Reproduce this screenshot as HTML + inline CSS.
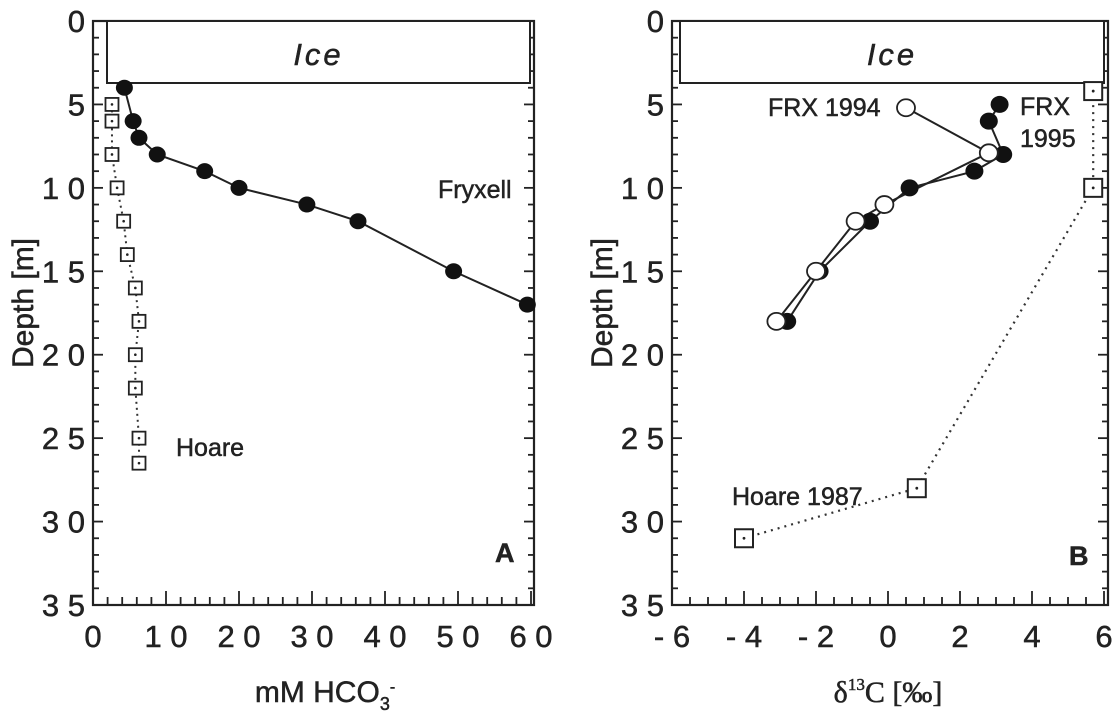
<!DOCTYPE html>
<html><head><meta charset="utf-8"><style>
body{margin:0;background:#fff}
svg text{font-family:"Liberation Sans",Arial,sans-serif;fill:#222;stroke:#222;stroke-width:0.5}
</style></head><body>
<svg id="chart" width="1120" height="721" viewBox="0 0 1120 721" xmlns="http://www.w3.org/2000/svg"></svg>
<script>
// Panel A data
const fryxellDepth = [4, 6, 7, 8, 9, 10, 11, 12, 15, 17];
const fryxellHCO3 = [4.3, 5.5, 6.3, 8.8, 15.3, 20, 29.3, 36.3, 49.4, 59.5];
const hoareDepth = [5, 6, 8, 10, 12, 14, 16, 18, 20, 22, 25, 26.5];
const hoareHCO3 = [2.6, 2.6, 2.6, 3.3, 4.2, 4.7, 5.8, 6.3, 5.8, 5.8, 6.3, 6.3];
const xTicksA = [0, 10, 20, 30, 40, 50, 60];
const xTickLabelsA = ["0", "1 0", "2 0", "3 0", "4 0", "5 0", "6 0"];
const yTicks = [0, 5, 10, 15, 20, 25, 30, 35];
const yTickLabels = ["0", "5", "1 0", "1 5", "2 0", "2 5", "3 0", "3 5"];
// Panel B data
const frx1994Depth = [5.2, 7.9, 11, 12, 15, 18];
const frx1994d13C = [0.5, 2.8, -0.1, -0.9, -2.0, -3.1];
const frx1995Depth = [5, 6, 8, 9, 10, 12, 15, 18];
const frx1995d13C = [3.1, 2.8, 3.2, 2.4, 0.6, -0.5, -1.9, -2.8];
const hoare1987Depth = [4.2, 10, 28, 31];
const hoare1987d13C = [5.7, 5.7, 0.8, -4.0];
const xTicksB = [-6, -4, -2, 0, 2, 4, 6];
const xTickLabelsB = ["- 6", "- 4", "- 2", "0", "2", "4", "6"];

const NS = "http://www.w3.org/2000/svg";
const svg = document.getElementById("chart");
function mk(tag, attrs, parent) {
  const e = document.createElementNS(NS, tag);
  for (const k in attrs) e.setAttribute(k, attrs[k]);
  (parent || svg).appendChild(e);
  return e;
}
const Y0 = 21, Y1 = 605;
const yS = d => Y0 + (Y1 - Y0) * d / 35;

function panel(cfg) {
  const g = mk("g", {});
  
  
  const xS = v => cfg.L + (cfg.xR - cfg.L) * (v - cfg.xmin) / (cfg.xmax - cfg.xmin);
  const fr = mk("rect", {x: cfg.L, y: Y0, width: cfg.R - cfg.L, height: Y1 - Y0, fill: "none", stroke: "#222", "stroke-width": 2.2}, g);
  
  
  for (let d = 0; d <= 35; d++) {
    const len = d % 5 === 0 ? 10 : 6;
    mk("line", {x1: cfg.L, x2: cfg.L + len, y1: yS(d), y2: yS(d), stroke: "#222", "stroke-width": 1.8}, g);
    mk("line", {x1: cfg.R, x2: cfg.R - len, y1: yS(d), y2: yS(d), stroke: "#222", "stroke-width": 1.8}, g);
  }
  yTicks.forEach((t, i) => {
    const tx = mk("text", {x: cfg.L - 8, y: yS(t) + 11, "text-anchor": "end", "font-size": 31}, g);
    tx.textContent = yTickLabels[i];
    
    
  });
  for (let v = cfg.xmin; v <= cfg.xmax + 1e-9; v += cfg.minor) {
    const isMaj = Math.abs(v / cfg.major - Math.round(v / cfg.major)) < 1e-6;
    mk("line", {x1: xS(v), x2: xS(v), y1: Y1, y2: Y1 - (isMaj ? 14 : 8), stroke: "#222", "stroke-width": 1.8}, g);
  }
  cfg.xTicks.forEach((t, i) => {
    const tx = mk("text", {x: xS(t), y: Y1 + 42, "text-anchor": "middle", "font-size": 31}, g);
    tx.textContent = cfg.xLabels[i];
    
    
  });
  const ice = mk("rect", {x: cfg.iceL, y: Y0, width: cfg.iceR - cfg.iceL, height: 83 - Y0, fill: "#fff", stroke: "#222", "stroke-width": 2}, g);
  
  
  const it = mk("text", {x: (cfg.iceL + cfg.iceR) / 2, y: 65, "text-anchor": "middle", "font-size": 31, "font-style": "italic", "letter-spacing": 3}, g);
  it.textContent = "Ice";
  
  
  const yt = mk("text", {x: 0, y: 0, "text-anchor": "middle", "font-size": 30, transform: `translate(${cfg.yTitleX},${(Y0 + Y1) / 2 - 10}) rotate(-90)`}, g);
  yt.textContent = "Depth [m]";
  
  
  return {g, xS};
}

// Panel A
const A = panel({name: "panel-a", L: 93, R: 534, xR: 531, xmin: 0, xmax: 60, minor: 2, major: 10,
  xTicks: xTicksA, xLabels: xTickLabelsA, iceL: 107, iceR: 530, yTitleX: 33});
(function () {
  const g = A.g, xS = A.xS;
  const hp = hoareDepth.map((d, i) => xS(hoareHCO3[i]) + "," + yS(d)).join(" ");
  const hl = mk("polyline", {points: hp, fill: "none", stroke: "#333", "stroke-width": 2, "stroke-dasharray": "2,4"}, g);
  
  
  hoareDepth.forEach((d, i) => {
    const r = mk("rect", {x: xS(hoareHCO3[i]) - 6.5, y: yS(d) - 6.5, width: 13, height: 13, fill: "#fff", stroke: "#222", "stroke-width": 1.8}, g);
    
    
    mk("circle", {cx: xS(hoareHCO3[i]), cy: yS(d), r: 1.3, fill: "#222"}, g);
  });
  const fp = fryxellDepth.map((d, i) => xS(fryxellHCO3[i]) + "," + yS(d)).join(" ");
  const fl = mk("polyline", {points: fp, fill: "none", stroke: "#222", "stroke-width": 2}, g);
  
  
  fryxellDepth.forEach((d, i) => {
    const c = mk("ellipse", {cx: xS(fryxellHCO3[i]), cy: yS(d), rx: 8.5, ry: 8, fill: "#111"}, g);
    
    
  });
  const labs = [["Fryxell", 438, 198], ["Hoare", 176, 456], ["A", 495, 562]];
  labs.forEach(([t, x, y]) => {
    const tx = mk("text", {x, y, "font-size": t === "A" ? 27 : 25, "font-weight": t === "A" ? "bold" : "normal"}, g);
    tx.textContent = t;
    
    
  });
  const xt = mk("text", {x: 325, y: 702, "text-anchor": "middle", "font-size": 30}, g);
  xt.innerHTML = 'mM HCO<tspan font-size="18" dy="8">3</tspan><tspan font-size="16" dy="-18">-</tspan>';
  
  
})();

// Panel B
const B = panel({name: "panel-b", L: 672, R: 1108, xR: 1104, xmin: -6, xmax: 6, minor: 0.5, major: 2,
  xTicks: xTicksB, xLabels: xTickLabelsB, iceL: 680, iceR: 1104, yTitleX: 612});
(function () {
  const g = B.g, xS = B.xS;
  const hp = hoare1987Depth.map((d, i) => xS(hoare1987d13C[i]) + "," + yS(d)).join(" ");
  const hl = mk("polyline", {points: hp, fill: "none", stroke: "#333", "stroke-width": 2.2, "stroke-dasharray": "2,5"}, g);
  
  
  hoare1987Depth.forEach((d, i) => {
    const r = mk("rect", {x: xS(hoare1987d13C[i]) - 9, y: yS(d) - 9, width: 18, height: 18, fill: "#fff", stroke: "#222", "stroke-width": 2}, g);
    
    
    mk("circle", {cx: xS(hoare1987d13C[i]), cy: yS(d), r: 1.4, fill: "#222"}, g);
  });
  const p95 = frx1995Depth.map((d, i) => xS(frx1995d13C[i]) + "," + yS(d)).join(" ");
  const l95 = mk("polyline", {points: p95, fill: "none", stroke: "#222", "stroke-width": 2}, g);
  
  
  const p94 = frx1994Depth.map((d, i) => xS(frx1994d13C[i]) + "," + yS(d)).join(" ");
  const l94 = mk("polyline", {points: p94, fill: "none", stroke: "#222", "stroke-width": 2}, g);
  
  
  frx1995Depth.forEach((d, i) => {
    const c = mk("ellipse", {cx: xS(frx1995d13C[i]), cy: yS(d), rx: 9, ry: 8.5, fill: "#111"}, g);
    
    
  });
  frx1994Depth.forEach((d, i) => {
    const c = mk("ellipse", {cx: xS(frx1994d13C[i]), cy: yS(d), rx: 9, ry: 8.5, fill: "#fff", stroke: "#222", "stroke-width": 1.8}, g);
    
    
  });
  const labs = [["FRX 1994", 768, 116, 25, "normal"], ["FRX", 1020, 115, 25, "normal"], ["1995", 1020, 147, 25, "normal"],
    ["Hoare 1987", 732, 505, 25, "normal"], ["B", 1069, 565, 27, "bold"]];
  labs.forEach(([t, x, y, fs, fw]) => {
    const tx = mk("text", {x, y, "font-size": fs, "font-weight": fw}, g);
    tx.textContent = t;
    
    
  });
  const xt = mk("text", {x: 888, y: 702, "text-anchor": "middle", "font-size": 30, style: "font-family:'Liberation Serif',serif"}, g);
  xt.innerHTML = 'δ<tspan font-size="17" dy="-12">13</tspan><tspan dy="12">C [‰]</tspan>';
  
  
})();
</script>
</body></html>
